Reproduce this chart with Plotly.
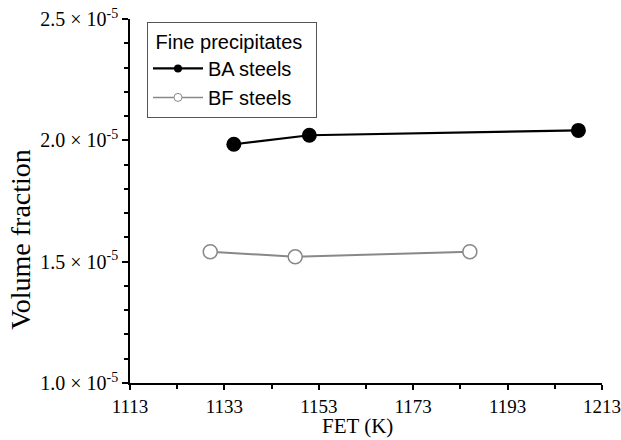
import plotly.graph_objects as go

ba_fet = [1135, 1151, 1208]
ba_vf = [1.984e-5, 2.021e-5, 2.041e-5]
bf_fet = [1130, 1148, 1185]
bf_vf = [1.541e-5, 1.520e-5, 1.541e-5]

x_ticks = [1113, 1133, 1153, 1173, 1193, 1213]
y_ticks = [1.0e-5, 1.5e-5, 2.0e-5, 2.5e-5]
y_ticktext = ["1.0 \u00d7 10<sup>-5</sup>", "1.5 \u00d7 10<sup>-5</sup>",
              "2.0 \u00d7 10<sup>-5</sup>", "2.5 \u00d7 10<sup>-5</sup>"]

serif = dict(family="Liberation Serif", size=20, color="black")
xserif = dict(family="Liberation Serif", size=19, color="black")
sans = dict(family="Liberation Sans", size=20, color="black")

fig = go.Figure()
fig.add_trace(go.Scatter(x=ba_fet, y=ba_vf, mode="lines+markers", showlegend=False,
                         line=dict(color="black", width=2.2),
                         marker=dict(size=15, color="black", symbol="circle")))
fig.add_trace(go.Scatter(x=bf_fet, y=bf_vf, mode="lines+markers", showlegend=False,
                         line=dict(color="#888888", width=2),
                         marker=dict(size=14, color="white", symbol="circle",
                                     line=dict(color="#888888", width=1.5))))
# legend entries
fig.add_trace(go.Scatter(x=[None], y=[None], mode="lines+markers", name="BA steels",
                         line=dict(color="black", width=2.2),
                         marker=dict(size=8, color="black")))
fig.add_trace(go.Scatter(x=[None], y=[None], mode="lines+markers", name="BF steels",
                         line=dict(color="#888888", width=1.5),
                         marker=dict(size=8, color="white", line=dict(color="#888888", width=1))))

fig.update_layout(
    width=621, height=440,
    margin=dict(l=130, r=19, t=19, b=57, autoexpand=False),
    plot_bgcolor="white", paper_bgcolor="white",
    font=serif,
    legend=dict(
        title=dict(text="\u00a0Fine precipitates\u00a0\u00a0", font=sans),
        font=sans,
        x=0.036, y=0.992, xanchor="left", yanchor="top",
        bordercolor="#555555", borderwidth=1, bgcolor="white",
        tracegroupgap=0, itemwidth=50,
    ),
    xaxis=dict(
        range=[1113, 1213], tickvals=x_ticks, ticks="outside", ticklen=5,
        tickwidth=1.5, tickcolor="black", tickfont=xserif, automargin=False,
        ticklabeloverflow="allow",
        showline=True, linecolor="black", linewidth=1.5, showgrid=False, zeroline=False,
        minor=dict(tickvals=[1123, 1143, 1163, 1183, 1203], ticks="outside", ticklen=4, tickcolor="black"),
    ),
    yaxis=dict(
        range=[1.0e-5, 2.5e-5], tickvals=y_ticks, ticktext=y_ticktext,
        ticks="outside", ticklen=6, tickwidth=1.5, tickcolor="black", tickfont=serif,
        automargin=False, ticklabeloverflow="allow",
        showline=True, linecolor="black", linewidth=1.5, showgrid=False, zeroline=False,
        minor=dict(tickvals=[v * 1e-6 for v in range(11, 25) if v % 5 != 0],
                   ticks="outside", ticklen=4, tickcolor="black"),
    ),
    annotations=[
        dict(text="FET (K)", xref="paper", yref="paper", x=0.481, y=-0.156,
             xanchor="center", yanchor="bottom", showarrow=False,
             font=dict(family="Liberation Serif", size=21, color="black")),
        dict(text="Volume fraction", xref="paper", yref="paper", x=-0.231, y=0.396,
             xanchor="center", yanchor="middle", showarrow=False, textangle=-90,
             font=dict(family="Liberation Serif", size=28, color="black")),
    ],
)
fig.write_html("out.html")
